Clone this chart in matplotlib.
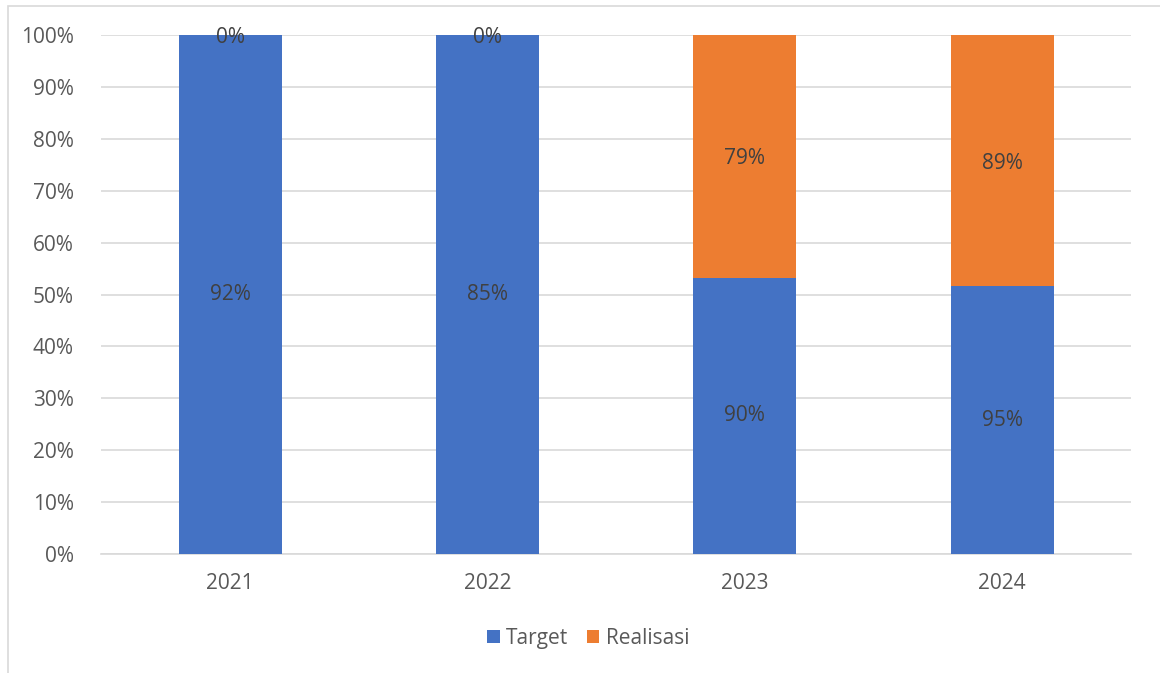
import numpy as np
import matplotlib
matplotlib.use('Agg')
import matplotlib.pyplot as plt
from matplotlib.patches import Rectangle
from matplotlib.ticker import PercentFormatter

# data
years = ['2021', '2022', '2023', '2024']
target = np.array([92, 85, 90, 95])
realisasi = np.array([0, 0, 79, 89])

total = target + realisasi
target_share = target / total * 100
realisasi_share = realisasi / total * 100

plt.rcParams['font.family'] = ['Open Sans', 'DejaVu Sans']

fig = plt.figure(figsize=(11.6, 6.73), dpi=100)
ax = fig.add_axes([0.0874, 0.1768, 0.8876, 0.7712])

# outer chart frame
fig.patches.append(Rectangle((8 / 1160, -0.01), 1.0, 1 - 6 / 673 + 0.01,
                             transform=fig.transFigure, fill=False,
                             edgecolor='#d9d9d9', linewidth=1.2))

x = np.arange(len(years))
w = 0.4
b1 = ax.bar(x, target_share, w, color='#4472C4', label='Target', zorder=3)
b2 = ax.bar(x, realisasi_share, w, bottom=target_share, color='#ED7D31',
            label='Realisasi', zorder=3)

# data labels show raw values
for i in range(len(years)):
    ax.text(x[i], target_share[i] / 2, f'{target[i]}%', ha='center', va='center',
            fontsize=15, color='#404040', zorder=4)
    ax.text(x[i], target_share[i] + realisasi_share[i] / 2 - 0.5, f'{realisasi[i]}%',
            ha='center', va='center', fontsize=15, color='#404040', zorder=4)

ax.set_xlim(-0.5, len(years) - 0.5)
ax.set_ylim(0, 100)
ax.set_yticks(np.arange(0, 101, 10))
ax.yaxis.set_major_formatter(PercentFormatter(decimals=0))
ax.set_xticks(x)
ax.set_xticklabels(years)
ax.tick_params(axis='both', length=0, labelsize=15, labelcolor='#595959')
ax.tick_params(axis='x', pad=14)
ax.tick_params(axis='y', pad=20)
ax.grid(axis='y', color='#d9d9d9', linewidth=1.2, zorder=0)
for s in ['top', 'right', 'left']:
    ax.spines[s].set_visible(False)
ax.spines['bottom'].set_color('#d9d9d9')
ax.spines['bottom'].set_linewidth(1.2)

fig.legend(handles=[b1, b2], loc='center', bbox_to_anchor=(0.507, 0.052),
           ncol=2, frameon=False, fontsize=15, labelcolor='#595959',
           handlelength=0.6, handleheight=0.6, handletextpad=0.3,
           columnspacing=0.9)

fig.savefig('out.png', dpi=100)
